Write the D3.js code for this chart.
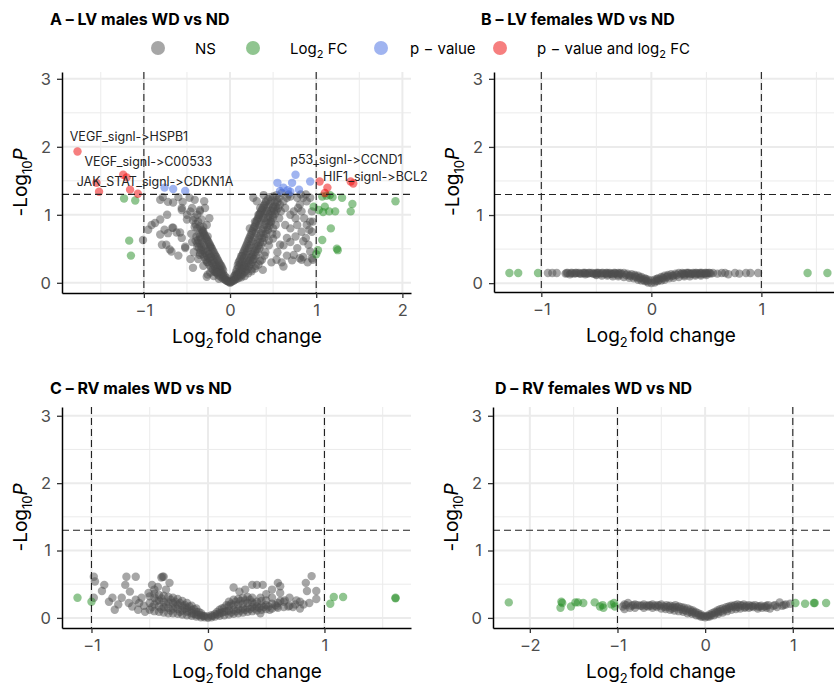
<!DOCTYPE html>
<html>
<head>
<meta charset="utf-8">
<script src="https://cdn.jsdelivr.net/npm/d3@7"></script>
<style>
  body { margin: 0; background: #fff; }
  svg { font-family: Inter, "Noto Sans", sans-serif; font-feature-settings: "calt" 0, "liga" 0; font-variant-ligatures: none; }
</style>
</head>
<body>
<div class="svg-container"></div>
<script>
//Data: [log2 fold change, -log10 p]

// A - LV males
const nsA = [
  [0,0],[0.01,0.01],[-0.01,0.01],[0.02,0.02],[-0.02,0.02],[0.03,0.04],[-0.03,0.03],
  [0.04,0.03],[0.04,0.07],[0.05,0.10],[0.06,0.05],[0.06,0.12],[0.07,0.16],[0.08,0.06],[0.08,0.13],[0.08,0.20],
  [0.10,0.07],[0.10,0.15],[0.10,0.23],[0.10,0.30],[0.12,0.10],[0.12,0.19],[0.12,0.27],[0.12,0.35],
  [0.14,0.12],[0.14,0.21],[0.14,0.31],[0.14,0.40],[0.16,0.15],[0.16,0.25],[0.16,0.36],[0.16,0.46],
  [0.18,0.17],[0.18,0.29],[0.18,0.41],[0.18,0.52],[0.20,0.20],[0.20,0.33],[0.20,0.46],[0.20,0.58],
  [0.22,0.24],[0.22,0.37],[0.22,0.51],[0.22,0.64],[0.24,0.27],[0.24,0.42],[0.24,0.56],[0.24,0.70],
  [0.26,0.31],[0.26,0.46],[0.26,0.61],[0.26,0.76],[0.28,0.35],[0.28,0.52],[0.28,0.67],[0.28,0.82],
  [0.30,0.40],[0.30,0.57],[0.30,0.73],[0.30,0.88],[0.32,0.45],[0.32,0.62],[0.32,0.79],[0.32,0.94],
  [0.34,0.50],[0.34,0.68],[0.34,0.85],[0.34,1.00],[0.36,0.55],[0.36,0.73],[0.36,0.90],[0.36,1.05],
  [0.38,0.60],[0.38,0.79],[0.38,0.96],[0.38,1.10],[0.40,0.66],[0.40,0.85],[0.40,1.01],[0.40,1.15],
  [0.42,0.72],[0.42,0.90],[0.42,1.06],[0.42,1.20],[0.44,0.78],[0.44,0.96],[0.44,1.11],
  [0.46,0.84],[0.46,1.01],[0.46,1.16],[0.46,1.26],[0.48,0.90],[0.48,1.06],[0.48,1.21],
  [0.50,0.96],[0.50,1.12],[0.50,1.27],[0.52,1.01],[0.52,1.18],[0.54,1.06],[0.54,1.22],[0.54,1.29],
  [0.56,1.10],[0.57,1.25],
  [0.05,0.04],[0.07,0.09],[0.09,0.11],[0.11,0.13],[0.13,0.16],[0.15,0.20],[0.17,0.23],[0.19,0.26],
  [0.21,0.30],[0.23,0.33],[0.25,0.38],[0.27,0.41],[0.29,0.46],[0.31,0.50],[0.33,0.55],[0.35,0.60],
  [0.37,0.66],[0.39,0.71],[0.41,0.77],[0.43,0.82],[0.45,0.88],[0.47,0.95],[0.49,1.00],[0.51,1.06],
  [0.53,1.12],[0.55,1.18],[0.09,0.26],[0.11,0.32],[0.13,0.39],[0.15,0.43],[0.17,0.49],[0.19,0.55],
  [0.21,0.61],[0.23,0.67],[0.25,0.73],[0.27,0.79],[0.29,0.84],[0.31,0.91],[0.33,0.96],[0.35,1.02],
  [0.37,1.07],[0.39,1.13],[0.41,1.18],[0.44,1.23],[0.13,0.08],[0.17,0.10],[0.21,0.14],[0.25,0.17],
  [0.29,0.21],[0.33,0.27],[0.37,0.34],[0.41,0.45],[0.45,0.62],[0.49,0.72],[0.53,0.85],[0.57,0.95],[0.59,1.05],
  [0.27,1.25],[0.31,1.20],[0.39,1.29],[0.35,1.10],[0.43,1.05],[0.50,1.10],[0.58,1.15],[0.62,1.20],
  [0.66,1.25],[0.70,1.27],[0.78,1.25],[0.81,1.15],[0.85,1.25],[0.89,1.20],[0.93,1.25],[0.79,1.10],
  [0.83,1.05],[0.70,1.00],[0.76,0.95],[0.64,0.85],[0.70,0.80],[0.78,0.85],[0.83,0.75],[0.89,0.85],
  [0.93,0.90],[0.95,0.75],[0.85,0.61],[0.91,0.56],[0.93,0.46],[0.78,0.51],[0.74,0.41],[0.81,0.36],
  [0.66,0.66],[0.58,0.56],[0.54,0.71],[0.50,0.80],[0.47,0.90],[0.39,0.95],[0.33,1.00],[0.29,0.90],
  [0.23,0.80],[0.60,0.30],[0.66,0.40],[0.72,0.33],[0.85,0.38],[0.90,0.30],[0.95,0.36],[0.55,0.45],
  [0.62,0.55],[0.70,0.60],[0.76,0.68],[0.88,0.66],[0.92,0.78],[0.96,0.90],[0.86,0.95],[0.74,1.05],
  [0.64,1.10],[0.82,1.30],[0.68,1.30],[0.60,1.32],[0.88,1.30],[0.95,1.05],[0.40,0.40],[0.45,0.55],
  [0.50,0.65],[0.35,0.32],[0.30,0.25],[0.25,0.20],[0.48,0.30],[0.38,0.19],[0.27,0.34],[0.54,0.34],
  [0.62,0.24],[0.83,0.34],[0.96,0.34],
  [-0.04,0.03],[-0.04,0.07],[-0.06,0.05],[-0.06,0.10],[-0.08,0.06],[-0.08,0.13],[-0.08,0.18],
  [-0.10,0.08],[-0.10,0.16],[-0.10,0.24],[-0.12,0.10],[-0.12,0.20],[-0.12,0.28],
  [-0.14,0.12],[-0.14,0.22],[-0.14,0.33],[-0.16,0.15],[-0.16,0.26],[-0.16,0.38],
  [-0.18,0.17],[-0.18,0.30],[-0.18,0.42],[-0.20,0.20],[-0.20,0.34],[-0.20,0.47],
  [-0.22,0.22],[-0.22,0.38],[-0.22,0.52],[-0.24,0.26],[-0.24,0.42],[-0.24,0.57],
  [-0.26,0.30],[-0.26,0.46],[-0.26,0.62],[-0.28,0.34],[-0.28,0.50],[-0.28,0.66],
  [-0.30,0.38],[-0.30,0.55],[-0.30,0.71],[-0.32,0.42],[-0.32,0.60],[-0.32,0.76],
  [-0.34,0.48],[-0.34,0.65],[-0.36,0.52],[-0.36,0.72],[-0.38,0.58],[-0.38,0.80],[-0.40,0.62],[-0.40,0.86],
  [-0.05,0.04],[-0.07,0.08],[-0.09,0.11],[-0.11,0.14],[-0.13,0.17],[-0.15,0.20],[-0.17,0.23],[-0.19,0.26],
  [-0.21,0.29],[-0.23,0.33],[-0.25,0.36],[-0.27,0.40],[-0.29,0.44],[-0.31,0.48],[-0.33,0.53],[-0.35,0.58],
  [-0.37,0.63],[-0.39,0.68],[-0.09,0.21],[-0.11,0.26],[-0.13,0.30],[-0.15,0.35],[-0.17,0.40],[-0.19,0.45],
  [-0.21,0.50],[-0.23,0.55],[-0.25,0.60],[-0.27,0.64],[-0.29,0.69],[-0.31,0.73],[-0.33,0.78],[-0.35,0.83],
  [-0.37,0.90],[-0.13,0.06],[-0.19,0.10],[-0.23,0.15],[-0.31,0.25],[-0.37,0.35],[-0.42,0.45],[-0.45,0.72],
  [-0.43,0.92],[-0.38,1.00],[-0.46,1.05],
  [-0.81,1.22],[-0.78,1.26],[-0.72,1.19],[-0.60,1.26],[-0.66,1.18],[-0.55,1.19],[-0.47,1.25],[-0.41,1.22],
  [-0.56,1.10],[-0.44,1.10],[-0.35,1.07],[-0.29,1.10],[-0.50,1.00],[-0.41,0.96],[-0.33,0.93],[-0.27,0.85],
  [-0.73,1.00],[-0.81,0.93],[-0.91,0.85],[-0.95,0.78],[-0.76,0.78],[-0.67,0.81],[-0.62,0.74],[-0.81,0.71],
  [-0.79,0.56],[-0.70,0.49],[-0.56,0.66],[-0.52,0.51],[-0.44,0.60],[-0.38,0.53],[-0.35,0.41],[-0.27,0.31],
  [-0.26,0.12],[-0.17,0.16],[-0.41,0.82],[-0.31,0.75],[-0.35,0.68],[-0.26,0.68],[-0.23,0.53],
  [-1.01,0.63],[-0.87,0.88],[-0.74,0.56],[-0.68,0.46],[-0.43,0.22],[-0.27,0.09],[-0.15,0.15],[-0.56,1.07],
  [-0.50,0.93],[-0.35,1.05],[-0.31,0.82],[-0.58,0.74],[-0.52,0.53],[-0.35,0.44],[-0.23,0.38],[-0.66,0.81],
  [-0.72,0.73],[-0.30,1.20],[-0.24,0.95],[-0.46,0.35],[-0.60,0.40]
];
const fcA = [
  [-1.23,1.24],[-1.10,1.21],[-1.17,0.62],[-1.15,0.40],
  [1.07,1.27],[1.12,1.28],[1.16,1.29],[1.19,1.26],[1.30,1.25],[1.42,1.16],[1.40,1.05],[0.97,1.12],
  [1.03,1.07],[1.08,1.04],[1.15,1.05],[1.22,1.05],[1.10,1.12],[1.17,0.80],[1.07,0.63],[1.02,0.48],
  [1.00,0.42],[1.25,0.48],[1.24,0.50],[1.92,1.20]
];
const pA = [
  [-0.76,1.40],[-0.66,1.38],[-0.52,1.35],
  [0.55,1.47],[0.62,1.40],[0.67,1.36],[0.72,1.47],[0.76,1.59],[0.70,1.34],[0.80,1.37],[0.93,1.49],[0.58,1.35]
];
const bothA = [
  [-1.77,1.93],[-1.55,1.47],[-1.52,1.34],[-1.24,1.59],[-1.20,1.55],[-1.16,1.37],[-1.07,1.31],
  [1.04,1.49],[1.13,1.40],[1.10,1.32],[1.40,1.49],[1.43,1.46]
];
const labelsA = [
  {text: 'VEGF_signl->HSPB1', x: -1.86, y: 2.09},
  {text: 'VEGF_signl->C00533', x: -1.69, y: 1.72},
  {text: 'JAK_STAT_signl->CDKN1A', x: -1.78, y: 1.43},
  {text: 'p53_signl->CCND1', x: 0.70, y: 1.75},
  {text: 'HIF1_signl->BCL2', x: 1.08, y: 1.50}
];

// B - LV females
const nsB = [
  [-0.94,0.15],[-0.90,0.15],[-0.86,0.15],[-0.78,0.14],[-0.76,0.15],[-0.74,0.13],[-0.72,0.15],[-0.70,0.14],
  [-0.68,0.15],[-0.66,0.15],[-0.64,0.14],[-0.62,0.15],[-0.60,0.15],[-0.58,0.14],[-0.56,0.15],[-0.54,0.15],
  [-0.52,0.14],[-0.50,0.15],[-0.48,0.15],[-0.46,0.14],[-0.44,0.15],[-0.42,0.14],[-0.40,0.15],[-0.38,0.15],
  [-0.36,0.14],[-0.34,0.15],[-0.32,0.14],[-0.30,0.15],[-0.28,0.15],
  [-0.25,0.15],[-0.22,0.14],[-0.18,0.13],[-0.15,0.12],[-0.12,0.11],[-0.09,0.09],[-0.06,0.07],[-0.03,0.05],
  [0,0.04],[0.03,0.05],[0.06,0.07],[0.09,0.09],[0.12,0.11],[0.15,0.12],[0.18,0.13],[0.22,0.14],[0.25,0.15],
  [-0.50,0.12],[-0.45,0.11],[-0.40,0.11],[-0.35,0.10],[-0.30,0.10],[-0.25,0.09],[-0.20,0.08],[-0.16,0.07],
  [-0.12,0.05],[-0.09,0.04],[-0.06,0.03],[-0.03,0.01],[0,0],[0.03,0.01],[0.06,0.03],[0.09,0.04],
  [0.12,0.05],[0.16,0.07],[0.20,0.08],[0.25,0.09],[0.30,0.10],[0.35,0.10],[0.40,0.11],[0.45,0.11],[0.50,0.12],
  [-0.20,0.11],[-0.15,0.10],[-0.10,0.08],[-0.05,0.06],[0.05,0.06],[0.10,0.08],[0.15,0.10],[0.20,0.11],
  [0.28,0.15],[0.30,0.14],[0.32,0.15],[0.34,0.15],[0.36,0.14],[0.38,0.15],[0.40,0.15],[0.42,0.14],
  [0.44,0.15],[0.46,0.15],[0.48,0.14],[0.50,0.15],[0.52,0.15],[0.54,0.14],
  [0.56,0.15],[0.60,0.14],[0.64,0.15],[0.67,0.15],[0.70,0.13],[0.76,0.15],[0.80,0.14],[0.86,0.15],
  [0.90,0.15],[0.97,0.15],
  [-0.77,0.15],[-0.73,0.15],[-0.69,0.15],[-0.65,0.14],[-0.61,0.15],[-0.57,0.15],[-0.53,0.14],[-0.49,0.15],
  [-0.45,0.15],[-0.41,0.15],[-0.37,0.14],[-0.33,0.15],[-0.29,0.14],[-0.27,0.13],[-0.23,0.12],[-0.19,0.11],
  [-0.14,0.09],[-0.11,0.07],[-0.07,0.05],[-0.04,0.03],[0.04,0.03],[0.07,0.05],[0.11,0.07],[0.14,0.09],
  [0.19,0.11],[0.23,0.12],[0.27,0.13],[0.29,0.14],[0.33,0.15],[0.37,0.14],[0.41,0.15],[0.45,0.15],
  [0.49,0.15],[0.53,0.15],[-0.40,0.13],[-0.35,0.13],[-0.30,0.12],[0.30,0.12],[0.35,0.13],[0.40,0.13],
  [-0.60,0.13],[-0.50,0.13],[0.45,0.13],[0.50,0.14]
];
const fcB = [[-1.29,0.15],[-1.21,0.15],[-1.03,0.15],[1.42,0.15],[1.60,0.15]];

// C - RV males
const nsC = [
  [-0.50,0.12],[-0.50,0.22],[-0.50,0.32],[-0.46,0.10],[-0.46,0.20],[-0.46,0.30],[-0.46,0.36],
  [-0.42,0.09],[-0.42,0.17],[-0.42,0.26],[-0.42,0.34],[-0.38,0.08],[-0.38,0.16],[-0.38,0.24],[-0.38,0.33],
  [-0.34,0.07],[-0.34,0.15],[-0.34,0.23],[-0.34,0.31],[-0.30,0.07],[-0.30,0.14],[-0.30,0.22],[-0.30,0.30],
  [-0.26,0.06],[-0.26,0.13],[-0.26,0.20],[-0.26,0.28],[-0.22,0.05],[-0.22,0.11],[-0.22,0.18],[-0.22,0.25],
  [-0.18,0.04],[-0.18,0.09],[-0.18,0.15],[-0.18,0.22],[-0.14,0.03],[-0.14,0.07],[-0.14,0.12],[-0.14,0.18],
  [-0.10,0.02],[-0.10,0.05],[-0.10,0.09],[-0.10,0.14],[-0.06,0.01],[-0.06,0.04],[-0.06,0.07],
  [-0.03,0.01],[-0.03,0.03],[0,0],[0,0.02],
  [-0.48,0.16],[-0.44,0.25],[-0.40,0.13],[-0.40,0.29],[-0.36,0.20],[-0.32,0.11],[-0.32,0.27],[-0.28,0.17],
  [-0.28,0.24],[-0.24,0.09],[-0.24,0.22],[-0.20,0.14],[-0.20,0.19],[-0.16,0.10],[-0.16,0.17],[-0.12,0.06],
  [-0.12,0.13],[-0.08,0.04],[-0.08,0.09],[-0.04,0.03],
  [0.03,0.01],[0.03,0.04],[0.06,0.02],[0.06,0.06],[0.10,0.03],[0.10,0.07],[0.10,0.12],
  [0.14,0.04],[0.14,0.09],[0.14,0.15],[0.18,0.05],[0.18,0.11],[0.18,0.18],[0.18,0.24],
  [0.22,0.06],[0.22,0.12],[0.22,0.19],[0.22,0.27],[0.26,0.07],[0.26,0.13],[0.26,0.20],[0.26,0.28],
  [0.30,0.08],[0.30,0.14],[0.30,0.21],[0.30,0.30],[0.34,0.09],[0.34,0.15],[0.34,0.22],[0.34,0.31],
  [0.38,0.10],[0.38,0.16],[0.38,0.23],[0.38,0.30],[0.42,0.11],[0.42,0.17],[0.42,0.24],
  [0.46,0.12],[0.46,0.18],[0.46,0.25],[0.50,0.13],[0.50,0.19],[0.50,0.26],
  [0.55,0.14],[0.55,0.21],[0.60,0.15],[0.60,0.22],[0.65,0.16],[0.65,0.24],[0.70,0.18],[0.75,0.20],
  [0.04,0.03],[0.08,0.05],[0.08,0.09],[0.12,0.08],[0.12,0.14],[0.16,0.10],[0.16,0.19],[0.20,0.08],
  [0.20,0.21],[0.24,0.10],[0.24,0.24],[0.28,0.11],[0.28,0.25],[0.32,0.12],[0.32,0.26],[0.36,0.13],
  [0.36,0.27],[0.40,0.14],[0.40,0.21],[0.44,0.15],[0.48,0.16],[0.52,0.17],[0.58,0.19],
  [0.89,0.62],[0.84,0.52],[0.85,0.40],[0.93,0.40],[0.93,0.28],[0.87,0.22],[0.79,0.24],[0.79,0.14],
  [0.60,0.52],[0.62,0.47],[0.55,0.42],[0.38,0.49],[0.42,0.49],[0.47,0.49],[0.32,0.42],[0.27,0.39],
  [0.62,0.37],[0.62,0.25],[0.70,0.30],[0.69,0.17],[0.59,0.17],[0.53,0.12],[0.45,0.07],[0.73,0.16],
  [0.45,0.30],[0.22,0.45],[0.66,0.26],[0.76,0.26],[0.82,0.20],[0.55,0.30],[0.50,0.35],
  [-0.98,0.61],[-0.97,0.54],[-0.89,0.49],[-0.91,0.40],[-0.98,0.30],[-0.70,0.61],[-0.62,0.61],[-0.71,0.49],
  [-0.39,0.61],[-0.40,0.60],[-0.38,0.61],[-0.48,0.49],[-0.33,0.52],[-0.67,0.39],[-0.85,0.24],[-0.80,0.12],
  [-0.82,0.30],[-0.74,0.30],[-0.65,0.17],[-0.59,0.22],[-0.54,0.09],[-0.57,0.30],[-0.51,0.37],[-0.46,0.42],
  [-0.62,0.27],[-0.68,0.22],[-0.77,0.20],[-0.55,0.18],[-0.60,0.12],[-0.43,0.46],[-0.36,0.42]
];
const fcC = [[-1.12,0.30],[-1.00,0.24],[1.05,0.21],[1.08,0.31],[1.16,0.31],[1.61,0.30],[1.61,0.29]];

// D - RV females
const nsD = [
  [-0.94,0.17],[-0.90,0.19],[-0.88,0.22],[-0.84,0.18],[-0.80,0.20],[-0.77,0.19],[-0.74,0.18],[-0.70,0.20],
  [-0.67,0.18],[-0.64,0.19],[-0.60,0.20],[-0.57,0.18],[-0.54,0.19],[-0.50,0.20],[-0.47,0.17],[-0.44,0.19],
  [-0.40,0.18],[-0.37,0.17],[-0.34,0.19],[-0.30,0.17],[-0.27,0.16],[-0.24,0.15],[-0.20,0.14],[-0.17,0.12],
  [-0.14,0.11],[-0.11,0.09],[-0.08,0.07],[-0.05,0.05],[-0.02,0.03],[0,0.01],[0.02,0.03],[0.05,0.05],
  [0.08,0.07],[0.11,0.09],[0.14,0.11],[0.17,0.13],[0.20,0.14],[0.24,0.16],[0.27,0.17],[0.30,0.18],
  [0.34,0.19],[0.37,0.20],[0.40,0.19],[0.44,0.20],[0.47,0.18],[0.50,0.19],[0.54,0.18],[0.57,0.19],
  [0.60,0.17],[0.64,0.18],[0.68,0.17],[0.72,0.19],[0.74,0.14],[0.78,0.18],[0.82,0.16],[0.85,0.23],
  [0.88,0.18],[0.92,0.20],[0.97,0.21],
  [-0.80,0.15],[-0.70,0.15],[-0.60,0.15],[-0.50,0.14],[-0.45,0.13],[-0.40,0.12],[-0.35,0.11],[-0.30,0.10],
  [-0.25,0.09],[-0.20,0.07],[-0.15,0.06],[-0.10,0.04],[-0.05,0.02],[0.05,0.02],[0.10,0.04],[0.15,0.06],
  [0.20,0.08],[0.25,0.10],[0.30,0.12],[0.35,0.13],[0.40,0.14],[0.45,0.15],[0.50,0.15],[0.60,0.14],
  [0.70,0.15],[-0.55,0.16],[-0.65,0.17],[0.55,0.16],[0.65,0.15],[-0.35,0.15],[0.35,0.16],[-0.25,0.12],
  [0.25,0.13],[-0.15,0.09],[0.15,0.09],[-0.92,0.13],[-0.86,0.15],
  [-0.92,0.20],[-0.82,0.19],[-0.72,0.18],[-0.62,0.18],[-0.52,0.18],[-0.42,0.17],[-0.32,0.16],[-0.28,0.13],
  [-0.22,0.11],[-0.18,0.09],[-0.12,0.07],[-0.07,0.04],[-0.03,0.02],[0.03,0.02],[0.07,0.04],[0.12,0.07],
  [0.18,0.10],[0.22,0.12],[0.28,0.15],[0.32,0.17],[0.42,0.18],[0.52,0.17],[0.62,0.17],[0.70,0.18],
  [0.80,0.19],[0.90,0.19],[-0.45,0.16],[-0.38,0.14],[0.38,0.16],[0.46,0.16]
];
const fcD = [
  [-2.24,0.23],[-1.64,0.24],[-1.65,0.15],[-1.63,0.22],[-1.53,0.17],[-1.48,0.23],[-1.45,0.23],[-1.39,0.22],
  [-1.26,0.23],[-1.20,0.17],[-1.17,0.19],[-1.16,0.15],[-1.07,0.20],[-1.04,0.22],[-1.03,0.17],
  [1.03,0.22],[1.14,0.21],[1.24,0.22],[1.25,0.22],[1.38,0.22]
];

// ticks
const yTicks = [0, 1, 2, 3];
const yMinor = [0.5, 1.5, 2.5];
const xTicksA = [-1, 0, 1, 2], xMinorA = [-1.5, -0.5, 0.5, 1.5];
const xTicksB = [-1, 0, 1],    xMinorB = [-0.5, 0.5, 1.5];
const xTicksC = [-1, 0, 1],    xMinorC = [-0.5, 0.5, 1.5];
const xTicksD = [-2, -1, 0, 1], xMinorD = [-1.5, -0.5, 0.5];

const fcCut = [-1, 1];
const pCut = 1.301;

const colors = {ns: '#4d4d4d', fc: '#228b22', p: '#4169e1', both: '#ee0000'};

////////////////////////////////////////////////////////
const svg = d3.select('.svg-container')
    .append('svg')
    .attr('width', 834)
    .attr('height', 685);

const panels = [
  {title: 'A \u2013 LV males WD vs ND', tx: 50, ty: 25, left: 62, right: 411, top: 72, bottom: 293, titleX: 247,
   xDomain: [-1.95, 2.10], yDomain: [-0.15, 3.1], xTicks: xTicksA, xMinor: xMinorA,
   ns: nsA, fc: fcA, p: pA, both: bothA, labels: labelsA},
  {title: 'B \u2013 LV females WD vs ND', tx: 481, ty: 25, left: 494, right: 834, top: 72, bottom: 292, titleX: 661,
   xDomain: [-1.43, 1.66], yDomain: [-0.13, 3.1], xTicks: xTicksB, xMinor: xMinorB,
   ns: nsB, fc: fcB, p: [], both: [], labels: []},
  {title: 'C \u2013 RV males WD vs ND', tx: 50, ty: 394, left: 62, right: 411, top: 407, bottom: 628, titleX: 247,
   xDomain: [-1.253, 1.743], yDomain: [-0.15, 3.13], xTicks: xTicksC, xMinor: xMinorC,
   ns: nsC, fc: fcC, p: [], both: [], labels: []},
  {title: 'D \u2013 RV females WD vs ND', tx: 495, ty: 394, left: 493, right: 834, top: 407, bottom: 628, titleX: 661,
   xDomain: [-2.42, 1.47], yDomain: [-0.15, 3.13], xTicks: xTicksD, xMinor: xMinorD,
   ns: nsD, fc: fcD, p: [], both: [], labels: []}
];

function drawPanel(p) {
  const x = d3.scaleLinear().domain(p.xDomain).range([p.left, p.right]);
  const y = d3.scaleLinear().domain(p.yDomain).range([p.bottom, p.top]);
  const g = svg.append('g');

  // grid
  g.selectAll('.gxm').data(p.xMinor).enter().append('line')
    .attr('x1', d => x(d)).attr('x2', d => x(d)).attr('y1', p.top).attr('y2', p.bottom)
    .attr('stroke', '#ebebeb').attr('stroke-width', 1);
  g.selectAll('.gym').data(yMinor).enter().append('line')
    .attr('x1', p.left).attr('x2', p.right).attr('y1', d => y(d)).attr('y2', d => y(d))
    .attr('stroke', '#ebebeb').attr('stroke-width', 1);
  g.selectAll('.gx').data(p.xTicks).enter().append('line')
    .attr('x1', d => x(d)).attr('x2', d => x(d)).attr('y1', p.top).attr('y2', p.bottom)
    .attr('stroke', '#ebebeb').attr('stroke-width', 2);
  g.selectAll('.gy').data(yTicks).enter().append('line')
    .attr('x1', p.left).attr('x2', p.right).attr('y1', d => y(d)).attr('y2', d => y(d))
    .attr('stroke', '#ebebeb').attr('stroke-width', 2);

  // points
  [['ns', p.ns], ['fc', p.fc], ['p', p.p], ['both', p.both]].forEach(([k, arr]) => {
    g.append('g').selectAll('circle').data(arr).enter().append('circle')
      .attr('cx', d => x(d[0])).attr('cy', d => y(d[1])).attr('r', 4.2)
      .attr('fill', colors[k]).attr('fill-opacity', 0.5);
  });

  // cutoffs
  g.selectAll('.vc').data(fcCut).enter().append('line')
    .attr('x1', d => x(d)).attr('x2', d => x(d)).attr('y1', p.top).attr('y2', p.bottom)
    .attr('stroke', '#222').attr('stroke-width', 1.1).attr('stroke-dasharray', '7,4');
  g.append('line')
    .attr('x1', p.left).attr('x2', p.right).attr('y1', y(pCut)).attr('y2', y(pCut))
    .attr('stroke', '#222').attr('stroke-width', 1.1).attr('stroke-dasharray', '7,4');

  // labels
  g.selectAll('.lab').data(p.labels).enter().append('text')
    .attr('x', d => x(d.x)).attr('y', d => y(d.y))
    .attr('font-size', 12.5).attr('fill', '#222')
    .text(d => d.text);

  // axes
  const fmt = d3.format('d');
  const xa = g.append('g').attr('transform', `translate(0,${p.bottom})`)
    .call(d3.axisBottom(x).tickValues(p.xTicks).tickFormat(fmt).tickSize(5).tickSizeOuter(0).tickPadding(6));
  const ya = g.append('g').attr('transform', `translate(${p.left},0)`)
    .call(d3.axisLeft(y).tickValues(yTicks).tickFormat(fmt).tickSize(5).tickSizeOuter(0).tickPadding(6));
  [xa, ya].forEach(a => {
    a.select('.domain').attr('stroke', '#000').attr('stroke-width', 1.5);
    a.selectAll('.tick line').attr('stroke', '#333').attr('stroke-width', 1.3);
    a.selectAll('.tick text').attr('fill', '#4d4d4d').attr('font-size', 16.5)
      .attr('font-family', 'Inter, "Noto Sans", sans-serif');
  });

  // axis titles
  const xt = g.append('text').attr('x', p.titleX).attr('y', p.bottom + 50)
    .attr('text-anchor', 'middle').attr('font-size', 19).attr('fill', '#000');
  xt.append('tspan').text('Log');
  xt.append('tspan').text('2').attr('font-size', 13).attr('dy', 5);
  xt.append('tspan').text('fold change').attr('dy', -5).attr('dx', 2);

  const yt = g.append('text')
    .attr('transform', `translate(${p.left - 35},${(p.top + p.bottom) / 2}) rotate(-90)`)
    .attr('text-anchor', 'middle').attr('font-size', 19).attr('fill', '#000');
  yt.append('tspan').text('-Log');
  yt.append('tspan').text('10').attr('font-size', 13).attr('dy', 5);
  yt.append('tspan').text('P').attr('font-style', 'italic').attr('dy', -5);

  // panel title
  svg.append('text').attr('x', p.tx).attr('y', p.ty)
    .attr('font-size', 16).attr('font-weight', 700).attr('fill', '#000')
    .text(p.title);
}

panels.forEach(drawPanel);

// legend
const legendItems = [
  {key: 'ns', cx: 158, tx: 195, parts: [['NS']]},
  {key: 'fc', cx: 253, tx: 290, parts: [['Log'], ['2', 'sub'], [' FC']]},
  {key: 'p', cx: 381, tx: 410, parts: [['p \u2212 value']]},
  {key: 'both', cx: 500, tx: 537, parts: [['p \u2212 value and log'], ['2', 'sub'], [' FC']]}
];
const legendY = 48;
legendItems.forEach(it => {
  svg.append('circle').attr('cx', it.cx).attr('cy', legendY).attr('r', 7)
    .attr('fill', colors[it.key]).attr('fill-opacity', 0.5);
  const t = svg.append('text').attr('x', it.tx).attr('y', legendY + 5.5)
    .attr('font-size', 15).attr('fill', '#000');
  let shifted = false;
  it.parts.forEach(pt => {
    const s = t.append('tspan').text(pt[0]);
    if (pt[1] === 'sub') { s.attr('font-size', 11).attr('dy', 4); shifted = true; }
    else if (shifted) { s.attr('dy', -4); shifted = false; }
  });
});
</script>
</body>
</html>
